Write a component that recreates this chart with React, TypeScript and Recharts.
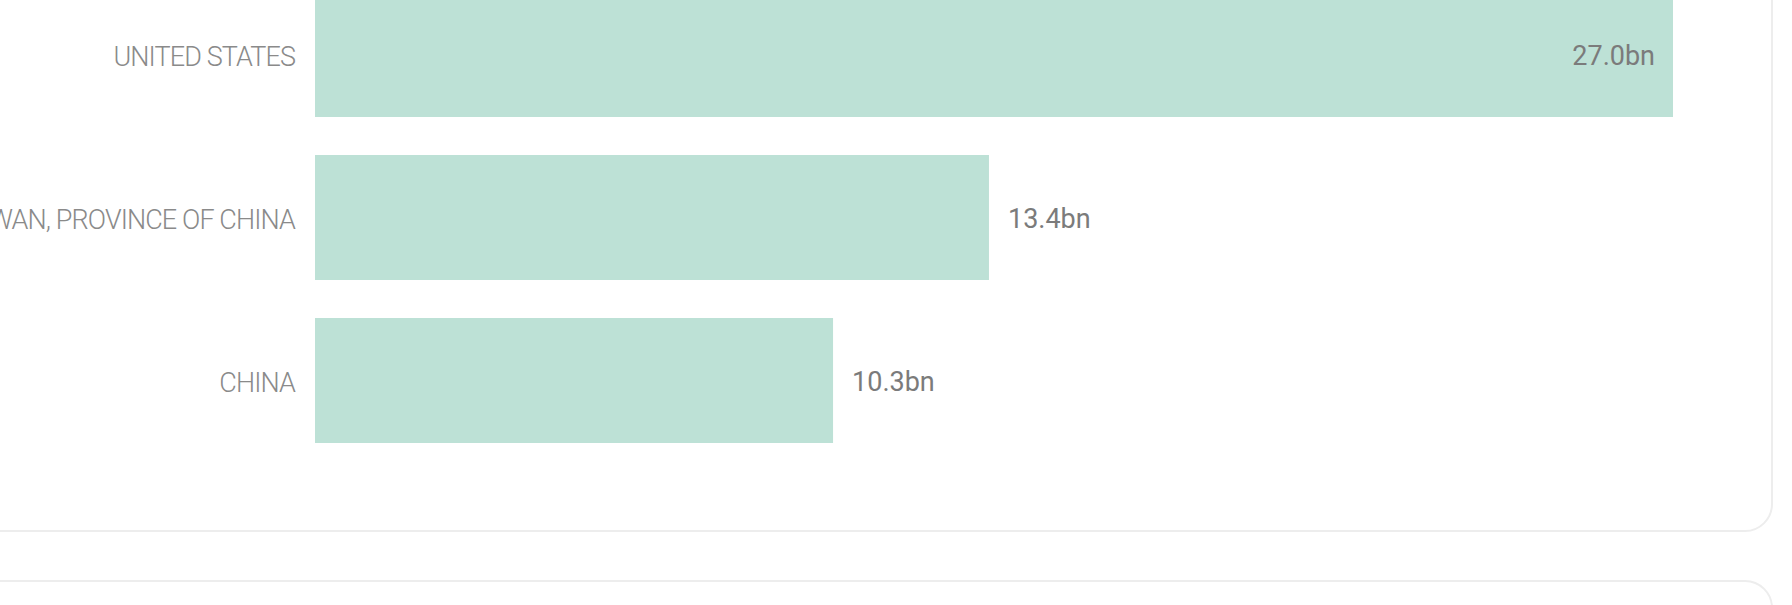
import * as React from 'react'
import { Bar, BarChart, LabelList, XAxis, YAxis } from 'recharts'

const countries = ['UNITED STATES', 'TAIWAN, PROVINCE OF CHINA', 'CHINA']
const valuesBn = [27.0, 13.4, 10.3]

const data = countries.map((name, i) => ({ name, value: valuesBn[i] }))
const maxValue = Math.max(...valuesBn)

const BAR_COLOR = '#bde1d6'
const CARD_BORDER = '#ededed'

// value label sits right of the bar, or inside it when the bar is the longest
const ValueLabel = (props: any) => {
  const { x, y, width, height, value } = props
  const inside = value / maxValue > 0.9
  return (
    <text
      x={inside ? x + width - 18 : x + width + 19}
      y={y + height / 2 + 1}
      textAnchor={inside ? 'end' : 'start'}
      dominantBaseline="central"
      fill="#7b7b7b"
      fontFamily="Roboto, sans-serif"
      fontWeight={400}
      fontSize={27}
    >
      {`${Number(value).toFixed(1)}bn`}
    </text>
  )
}

export default function App() {
  return (
    <div
      style={{
        position: 'fixed',
        left: 0,
        top: 0,
        width: 1792,
        height: 605,
        overflow: 'hidden',
        background: '#fff',
      }}
    >
      <div
        style={{
          position: 'absolute',
          left: -40,
          top: -40,
          width: 1813,
          height: 572,
          boxSizing: 'border-box',
          border: `2px solid ${CARD_BORDER}`,
          borderRadius: 28,
        }}
      />
      <div
        style={{
          position: 'absolute',
          left: -40,
          top: 580,
          width: 1813,
          height: 200,
          boxSizing: 'border-box',
          border: `2px solid ${CARD_BORDER}`,
          borderRadius: 28,
        }}
      />
      <div style={{ position: 'absolute', left: 0, top: -27 }}>
        <BarChart
          width={1792}
          height={489}
          data={data}
          layout="vertical"
          margin={{ top: 0, right: 119, bottom: 0, left: 15 }}
        >
          <XAxis type="number" dataKey="value" domain={[0, 'dataMax']} hide />
          <YAxis
            type="category"
            dataKey="name"
            width={300}
            axisLine={false}
            tickLine={false}
            tickMargin={14}
            dy={2}
            tick={{
              fontSize: 27,
              fill: '#8a8a8a',
              fontFamily: 'Roboto, sans-serif',
              fontWeight: 300,
              letterSpacing: -0.9,
            }}
          />
          <Bar dataKey="value" fill={BAR_COLOR} barSize={125} isAnimationActive={false}>
            <LabelList dataKey="value" content={<ValueLabel />} />
          </Bar>
        </BarChart>
      </div>
    </div>
  )
}
